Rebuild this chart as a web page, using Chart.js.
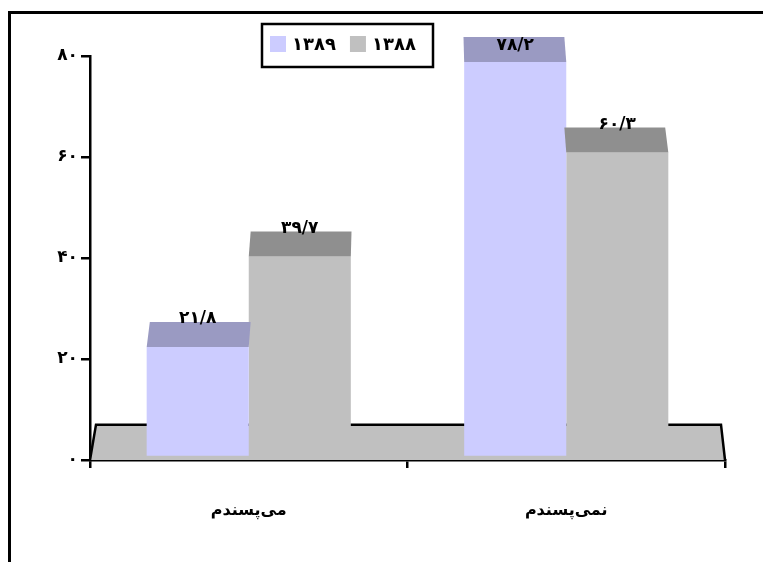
<!DOCTYPE html>
<html>
<head>
<meta charset="utf-8">
<script src="https://cdn.jsdelivr.net/npm/chart.js@4.4.1/dist/chart.umd.min.js"></script>
<style>
  body { margin: 0; background: #fff; }
  canvas { display: block; }
</style>
</head>
<body>
<canvas id="grafico" width="763" height="562"></canvas>
<script>
const categorias = ['می\u200cپسندم', 'نمی\u200cپسندم'];
const series = ['۱۳۸۹', '۱۳۸۸'];
const valores1389 = [21.8, 78.2];
const valores1388 = [39.7, 60.3];
const ticksY = [0, 20, 40, 60, 80];

const fuente = 'DejaVu Sans';
const colores = ['#CCCCFF', '#C0C0C0'];
const coloresTapa = ['#9A9AC2', '#8F8F8F'];

function fa(v) {
    return String(v).replace('.', '/').replace(/\d/g, d => '۰۱۲۳۴۵۶۷۸۹'[d]);
}

const levante = 3;
const profundidad = 25;

const plugin3d = {
    id: 'plugin3d',
    beforeDraw(chart) {
        const ctx = chart.ctx;
        ctx.save();
        ctx.lineWidth = 3;
        ctx.strokeStyle = '#000';
        ctx.strokeRect(9.5, 12.5, 800, 600);
        ctx.restore();
    },
    beforeDatasetsDraw(chart) {
        // piso gris
        const ctx = chart.ctx;
        const a = chart.chartArea;
        const y = chart.scales.y;
        const base = y.getPixelForValue(0);
        const arriba = y.getPixelForValue(7);
        ctx.save();
        ctx.beginPath();
        ctx.moveTo(a.left, base);
        ctx.lineTo(a.left + 6, arriba);
        ctx.lineTo(a.right - 4, arriba);
        ctx.lineTo(a.right, base);
        ctx.closePath();
        ctx.fillStyle = '#C0C0C0';
        ctx.fill();
        ctx.beginPath();
        ctx.moveTo(a.left, base);
        ctx.lineTo(a.left + 6, arriba);
        ctx.lineTo(a.right - 4, arriba);
        ctx.lineTo(a.right, base);
        ctx.strokeStyle = '#000';
        ctx.lineWidth = 2.5;
        ctx.stroke();
        ctx.restore();
    },
    beforeDatasetDraw(chart) {
        chart.ctx.save();
        chart.ctx.translate(0, -levante);
    },
    afterDatasetDraw(chart) {
        chart.ctx.restore();
    },
    afterDatasetsDraw(chart) {
        const ctx = chart.ctx;
        const a = chart.chartArea;
        const cx = (a.left + a.right) / 2;
        const k = 0.012;
        ctx.save();
        chart.data.datasets.forEach((ds, i) => {
            chart.getDatasetMeta(i).data.forEach((bar, j) => {
                const x0 = bar.x - bar.width / 2;
                const x1 = bar.x + bar.width / 2;
                const yf = bar.y - levante;
                const yt = yf - profundidad;
                ctx.beginPath();
                ctx.moveTo(x0, yf);
                ctx.lineTo(x1, yf);
                ctx.lineTo(x1 + (cx - x1) * k, yt);
                ctx.lineTo(x0 + (cx - x0) * k, yt);
                ctx.closePath();
                ctx.fillStyle = coloresTapa[i];
                ctx.fill();
            });
        });
        ctx.fillStyle = '#000';
        ctx.font = 'bold 17px "' + fuente + '"';
        ctx.textAlign = 'center';
        ctx.textBaseline = 'middle';
        chart.data.datasets.forEach((ds, i) => {
            chart.getDatasetMeta(i).data.forEach((bar, j) => {
                const yt = bar.y - levante - profundidad;
                ctx.fillText(fa(ds.data[j]), bar.x, Math.max(yt - 3, 46));
            });
        });
        ctx.restore();
    },
    afterDraw(chart) {
        // leyenda con marco
        const ctx = chart.ctx;
        ctx.save();
        ctx.lineWidth = 2.5;
        ctx.strokeStyle = '#000';
        ctx.strokeRect(262, 24, 171, 43);
        ctx.font = 'bold 18px "' + fuente + '"';
        ctx.textBaseline = 'middle';
        ctx.textAlign = 'left';
        let x = 270;
        chart.data.datasets.forEach((ds, i) => {
            ctx.fillStyle = ds.backgroundColor;
            ctx.fillRect(x, 36, 16, 16);
            x += 22;
            ctx.fillStyle = '#000';
            ctx.fillText(ds.label, x, 45);
            x += ctx.measureText(ds.label).width + 14;
        });
        ctx.restore();
    }
};

new Chart(document.getElementById('grafico').getContext('2d'), {
    type: 'bar',
    data: {
        labels: categorias,
        datasets: [
            { label: series[0], data: valores1389, backgroundColor: colores[0] },
            { label: series[1], data: valores1388, backgroundColor: colores[1] }
        ]
    },
    options: {
        responsive: false,
        animation: false,
        categoryPercentage: 0.643,
        barPercentage: 1,
        layout: { padding: { left: 0, right: 38, top: 56, bottom: 32 } },
        plugins: { legend: { display: false }, tooltip: { enabled: false } },
        scales: {
            x: {
                afterFit: s => { s.height = 70; },
                grid: { offset: true, drawOnChartArea: false, tickLength: 8, color: '#000', lineWidth: 2.5 },
                border: { display: true, color: '#000', width: 2.5 },
                ticks: { color: '#000', padding: 33, font: { family: fuente, size: 16, weight: 'bold' } }
            },
            y: {
                min: 0,
                max: 80,
                afterFit: s => { s.width = 90; },
                afterBuildTicks: s => { s.ticks = ticksY.map(v => ({ value: v })); },
                grid: { drawOnChartArea: false, tickLength: 9, color: '#000', lineWidth: 2.5 },
                border: { display: true, color: '#000', width: 2.5 },
                ticks: { color: '#000', padding: 3, callback: v => fa(v), font: { family: fuente, size: 17, weight: 'bold' } }
            }
        }
    },
    plugins: [plugin3d]
});
</script>
</body>
</html>
